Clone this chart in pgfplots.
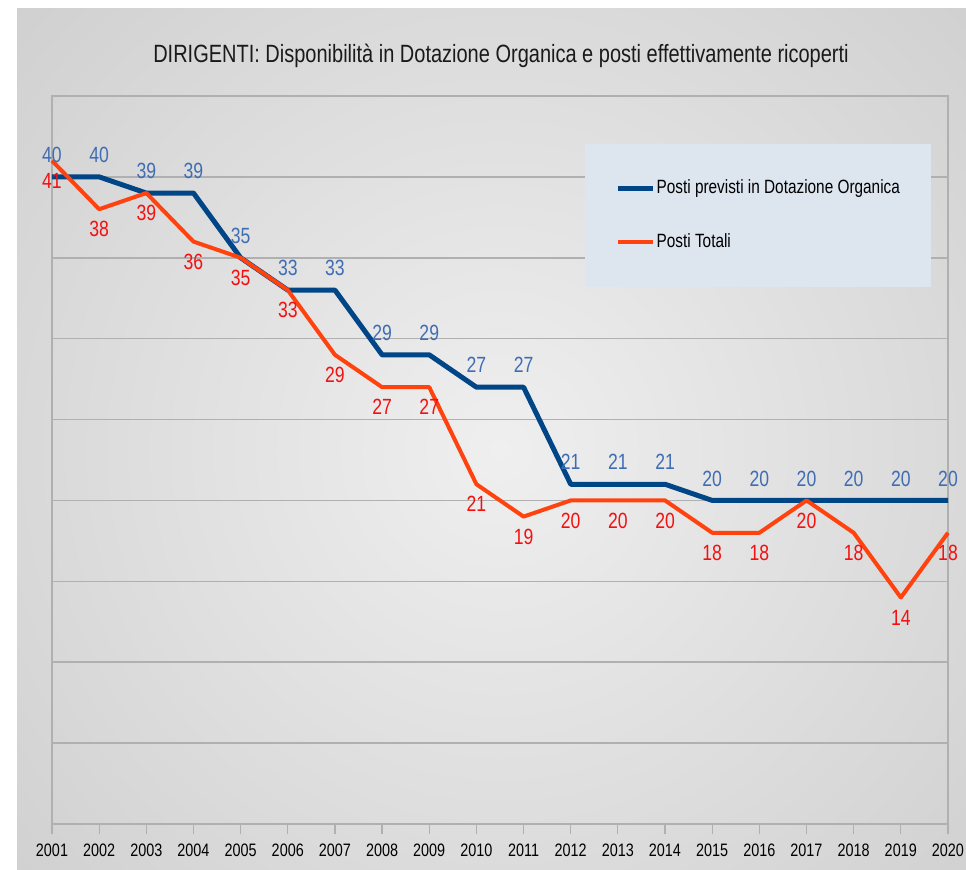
\documentclass[border=0pt]{standalone}
\usepackage{pgfplots}
\pgfplotsset{compat=1.18}
\usepackage{fontspec}
\setmainfont{Liberation Sans}[FakeStretch=0.8]
\definecolor{bluel}{HTML}{004586}
\definecolor{orangel}{HTML}{FF420E}
\definecolor{bluelab}{HTML}{3F6DB3}
\definecolor{redlab}{HTML}{F50F0F}
\definecolor{gridc}{HTML}{B0B0B0}
\definecolor{legfill}{HTML}{DDE5EF}
\definecolor{bginner}{HTML}{EFEFEF}
\definecolor{bgouter}{HTML}{AFAFAF}
\definecolor{titlec}{HTML}{1A1A1A}
\pgfdeclareradialshading{bgshade}{\pgfpoint{0bp}{0bp}}{color(0bp)=(bginner); color(50bp)=(bgouter)}
\begin{document}
\begin{tikzpicture}
\useasboundingbox (0,0) rectangle (483pt,435pt);
\fill[white] (0,0) rectangle (483pt,435pt);
\begin{scope}
\clip (8.5pt,0) rectangle (483pt,430.5pt);
\fill[bgouter] (8.5pt,0) rectangle (483pt,430.5pt);
\shade[shading=bgshade] (250pt,210pt) circle (340pt);
\end{scope}
\begin{axis}[
  at={(26pt,23pt)}, anchor=south west,
  scale only axis, width=448pt, height=364pt,
  xmin=2001, xmax=2020, ymin=0, ymax=45,
  xtick={2001,...,2020}, ytick={5,10,...,40},
  yticklabels={},
  ymajorgrids, grid style={gridc, line width=0.75pt},
  axis line style={gridc, line width=0.6pt},
  xtick pos=bottom, ytick pos=left,
  tick align=outside, major tick length=5pt,
  x tick style={gridc, line width=0.6pt},
  y tick style={draw=none},
  x tick label style={font=\fontsize{9}{10}\selectfont, text=black, yshift=-1.5pt, /pgf/number format/1000 sep={}},
  /pgf/number format/assume math mode=true,
  clip=false,
  legend cell align=left,
  legend style={at={(rel axis cs:0.594,0.935)}, anchor=north west, fill=legfill, draw=none,
    inner xsep=15.5pt, inner ysep=18pt, row sep=18.5pt, column sep=0.5pt,
    font=\fontsize{9.6}{11}\selectfont, text=black, nodes={inner sep=0pt}},
  legend image code/.code={\draw[#1] (0pt,0pt) -- (17.5pt,0pt);},
]
\addplot[bluel, line width=2.5pt, line join=round, nodes near coords,
  every node near coord/.append style={text=bluelab, font=\fontsize{11}{12}\selectfont, anchor=center, yshift=11pt}]
  coordinates {(2001,40) (2002,40) (2003,39) (2004,39) (2005,35) (2006,33) (2007,33) (2008,29) (2009,29) (2010,27)
  (2011,27) (2012,21) (2013,21) (2014,21) (2015,20) (2016,20) (2017,20) (2018,20) (2019,20) (2020,20)};
\addlegendentry{\makebox[121.5pt][l]{Posti previsti in Dotazione Organica}}
\addplot[orangel, line width=2pt, line join=round, nodes near coords,
  every node near coord/.append style={text=redlab, font=\fontsize{11}{12}\selectfont, anchor=center, yshift=-10pt}]
  coordinates {(2001,41) (2002,38) (2003,39) (2004,36) (2005,35) (2006,33) (2007,29) (2008,27) (2009,27) (2010,21)
  (2011,19) (2012,20) (2013,20) (2014,20) (2015,18) (2016,18) (2017,20) (2018,18) (2019,14) (2020,18)};
\addlegendentry{\makebox[121.5pt][l]{Posti Totali}}
\end{axis}
\node[anchor=base, font=\fontsize{12.5}{14}\selectfont, text=titlec] at (250.5pt,403.5pt)
  {DIRIGENTI: Disponibilità in Dotazione Organica e posti effettivamente ricoperti};
\end{tikzpicture}
\end{document}
